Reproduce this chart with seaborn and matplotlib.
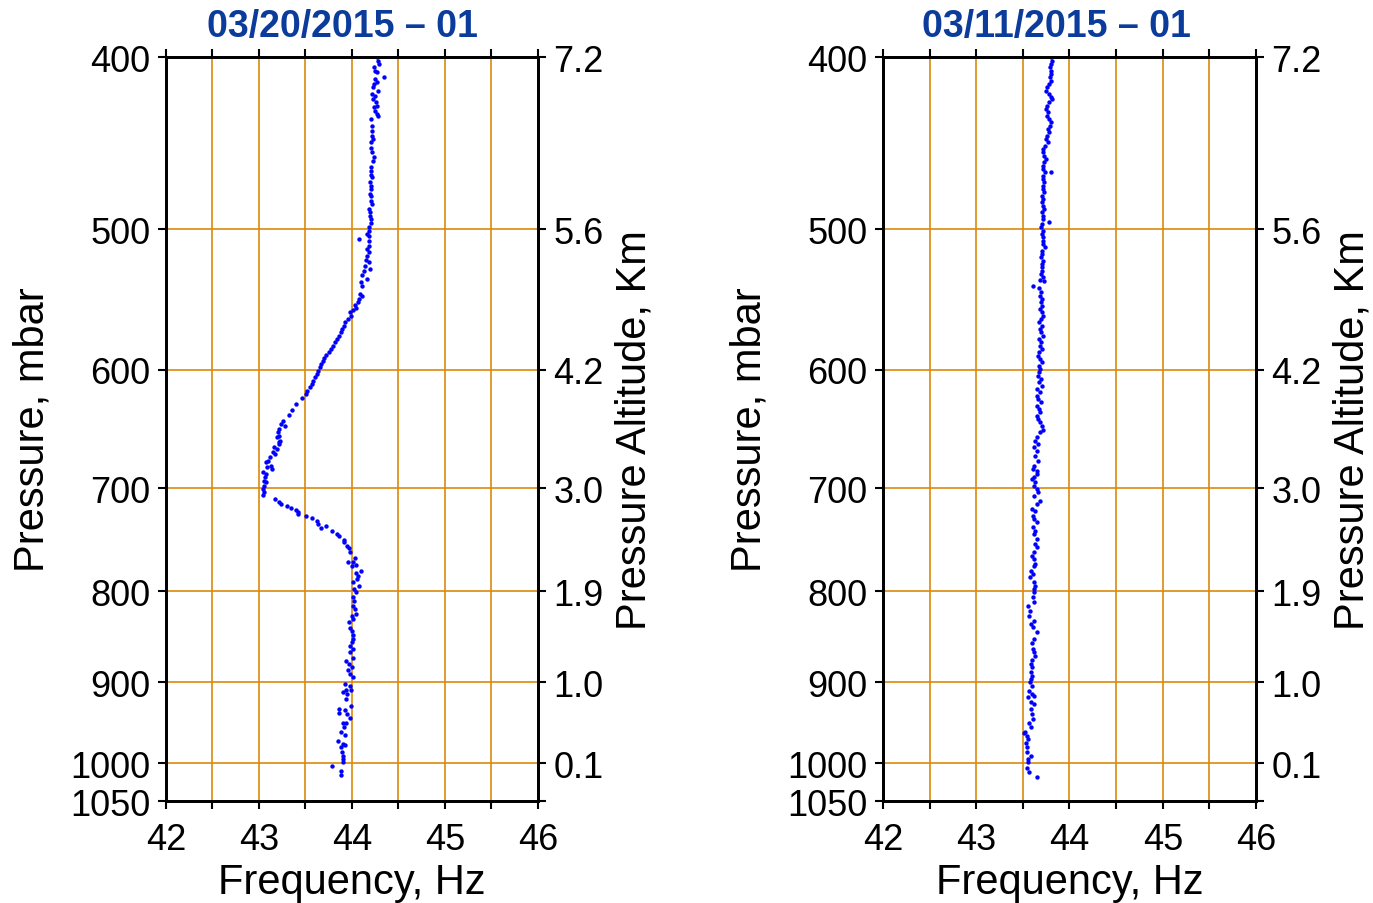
import matplotlib
matplotlib.use("Agg")
import matplotlib.pyplot as plt
from matplotlib.ticker import FixedLocator, NullLocator, NullFormatter, FixedFormatter
import pandas as pd
import seaborn as sns

sns.set_theme(style="white")
plt.rcParams["font.family"] = ["Liberation Sans", "DejaVu Sans"]

# Panel titles and axis ticks
titles = ["03/20/2015 \u2013 01", "03/11/2015 \u2013 01"]
pressure_ticks = [400, 500, 600, 700, 800, 900, 1000, 1050]
pressure_labels = ["400", "500", "600", "700", "800", "900", "1000", "1050"]
altitude_labels = ["7.2", "5.6", "4.2", "3.0", "1.9", "1.0", "0.1", ""]
freq_major = [42, 43, 44, 45, 46]
freq_minor = [42.5, 43.5, 44.5, 45.5]

# Sounding 03/20/2015 - 01 : frequency (Hz) vs pressure (mbar)
freq_0320 = [
    44.27, 44.28, 44.29, 44.24, 44.25, 44.27, 44.34, 44.25, 44.27, 44.24,
    44.23, 44.28, 44.22, 44.25, 44.23, 44.26, 44.27, 44.24, 44.25, 44.27,
    44.28, 44.21, 44.22, 44.22, 44.22, 44.23, 44.21, 44.20, 44.22, 44.24,
    44.23, 44.20, 44.21, 44.20, 44.22, 44.19, 44.21, 44.20, 44.19, 44.21,
    44.20, 44.22, 44.18, 44.19, 44.19, 44.21, 44.20, 44.18, 44.18, 44.16,
    44.18, 44.08, 44.18, 44.18, 44.16, 44.18, 44.16, 44.15, 44.18, 44.14,
    44.19, 44.13, 44.11, 44.16, 44.10, 44.11, 44.09, 44.11, 44.08, 44.06,
    44.03, 44.04, 44.01, 43.98, 43.99, 43.96, 43.92, 43.91, 43.89, 43.88,
    43.86, 43.84, 43.82, 43.80, 43.77, 43.75, 43.72, 43.70, 43.69, 43.67,
    43.66, 43.64, 43.62, 43.60, 43.58, 43.57, 43.55, 43.52, 43.51, 43.46,
    43.40, 43.35, 43.32,
    43.26, 43.24, 43.28, 43.21, 43.20, 43.22, 43.19, 43.23, 43.21, 43.22,
    43.16, 43.19, 43.15, 43.17, 43.12, 43.10, 43.08, 43.13, 43.09, 43.14,
    43.04, 43.08, 43.06, 43.05, 43.08, 43.05, 43.04, 43.05, 43.04,
    43.17, 43.22, 43.24, 43.30, 43.34, 43.40, 43.42, 43.42, 43.51, 43.57,
    43.62, 43.64, 43.72, 43.67, 43.78, 43.84, 43.86, 43.91, 43.91, 43.95,
    43.97, 43.98, 44.03, 43.96, 44.01, 44.04, 44.00, 44.10, 44.04, 44.06,
    44.05, 44.01, 44.08, 44.02, 44.04, 44.01, 44.02, 44.01, 44.03, 44.04,
    44.00, 44.01, 43.97, 43.98, 44.00, 44.01, 44.01, 44.00, 43.98, 44.01,
    43.98, 44.01, 43.94, 43.97, 44.00, 43.96, 43.98, 44.01, 43.92, 43.98,
    43.94, 43.99, 43.90, 43.95, 43.94, 43.99, 43.86, 43.92, 43.86, 43.95,
    43.98, 43.90, 43.94, 43.91, 43.88, 43.92, 43.85, 43.90, 43.92, 43.88,
    43.89, 43.90, 43.90, 43.90, 43.79, 43.88, 43.88,
]
pres_0320 = [
    400.2, 401.9, 403.7, 405.4, 407.2, 408.0, 410.7, 411.6, 413.4, 414.3,
    416.0, 417.9, 419.7, 420.6, 422.4, 424.2, 426.1, 427.0, 428.8, 430.7,
    431.6, 433.5, 437.3, 440.1, 443.0, 444.9, 446.8, 450.1, 452.6, 455.6,
    457.6, 461.5, 463.5, 466.1, 467.6, 470.6, 472.7, 474.7, 477.8, 478.8,
    481.9, 484.0, 487.2, 489.3, 491.4, 493.5, 496.1, 498.9, 501.1, 503.3,
    504.3, 506.5, 507.6, 510.9, 513.1, 515.4, 517.6, 520.3, 522.1, 524.3,
    526.6, 527.7, 530.7, 533.5, 535.8, 538.1, 544.0, 545.2, 547.5, 549.4,
    551.8, 554.2, 555.0, 557.1, 559.5, 561.9, 564.3, 566.8, 569.3, 571.7,
    574.2, 576.7, 579.2, 581.7, 584.2, 586.8, 588.8, 591.3, 593.1, 595.7,
    598.3, 600.8, 603.5, 606.1, 608.7, 611.4, 614.0, 616.7, 619.4, 622.8,
    627.4, 632.3, 636.4,
    641.1, 643.8, 645.2, 648.0, 650.8, 653.6, 655.1, 657.9, 659.4, 660.7,
    663.6, 665.0, 668.0, 669.4, 672.2, 675.2, 676.6, 679.6, 681.1, 682.6,
    685.5, 687.0, 690.0, 692.9, 694.4, 697.4, 700.4, 702.9, 705.9,
    709.6, 712.0, 714.2, 716.4, 718.2, 719.5, 722.0, 723.5, 725.1, 727.6,
    729.8, 733.0, 735.2, 737.1, 739.3, 742.5, 744.8, 748.0, 750.6, 753.8,
    756.5, 759.7, 766.3, 769.7, 770.3, 773.0, 773.7, 778.7, 781.1, 783.7,
    787.1, 790.6, 794.0, 797.4, 800.8, 806.1, 809.6, 814.8, 818.4, 823.8,
    825.5, 829.1, 832.7, 839.2, 841.7, 846.5, 850.9, 854.6, 858.3, 862.0,
    865.8, 872.5, 875.1, 879.0, 882.8, 885.4, 890.4, 894.3, 902.0, 904.0,
    908.7, 909.5, 911.8, 913.8, 919.8, 927.7, 931.8, 932.5, 937.1, 937.8,
    943.2, 948.9, 949.5, 954.2, 960.4, 963.8, 970.8, 975.0, 976.3, 979.2,
    985.6, 990.0, 994.2, 998.5, 1003.7, 1009.4, 1015.0,
]

# Sounding 03/11/2015 - 01 : frequency (Hz) vs pressure (mbar)
freq_0311 = [
    43.80, 43.81, 43.80, 43.79, 43.80, 43.80, 43.79, 43.80, 43.78, 43.76,
    43.75, 43.78, 43.80, 43.81, 43.78, 43.76, 43.75, 43.77, 43.76, 43.78,
    43.80, 43.79, 43.77, 43.78, 43.76, 43.75, 43.77, 43.74, 43.72, 43.72,
    43.73, 43.75, 43.73, 43.72, 43.72, 43.80, 43.74, 43.72, 43.72, 43.73,
    43.72, 43.72, 43.73, 43.71, 43.72, 43.71, 43.72, 43.73, 43.71, 43.72,
    43.72, 43.78, 43.71, 43.69, 43.72, 43.71, 43.72, 43.72, 43.72, 43.74,
    43.70, 43.71, 43.69, 43.72, 43.70, 43.71, 43.70, 43.69, 43.72, 43.68,
    43.73, 43.61, 43.67, 43.69, 43.68, 43.70, 43.69, 43.71, 43.68, 43.70,
    43.72, 43.69, 43.67, 43.71, 43.68, 43.69, 43.72, 43.67, 43.69, 43.68,
    43.70, 43.67, 43.66, 43.68, 43.70, 43.67, 43.68, 43.67, 43.66, 43.69,
    43.67, 43.71, 43.65, 43.68, 43.65, 43.66, 43.69, 43.65, 43.67, 43.68,
    43.65, 43.66, 43.68, 43.70,
    43.72, 43.68, 43.65, 43.63, 43.66, 43.62, 43.65, 43.63, 43.66, 43.62,
    43.61, 43.65, 43.65, 43.62, 43.60, 43.63, 43.62, 43.65, 43.66, 43.62,
    43.68, 43.65, 43.60, 43.63, 43.61, 43.62, 43.65, 43.61, 43.63, 43.62,
    43.65, 43.63, 43.65, 43.62, 43.60, 43.62, 43.63, 43.62, 43.59, 43.61,
    43.58, 43.62, 43.63, 43.62, 43.62, 43.61, 43.62, 43.56, 43.58, 43.57,
    43.62, 43.59, 43.61, 43.65, 43.62, 43.60, 43.61, 43.62, 43.63, 43.60,
    43.59, 43.60, 43.59, 43.60, 43.59, 43.58, 43.60, 43.57, 43.60, 43.62,
    43.56, 43.59, 43.62, 43.59, 43.60, 43.61, 43.57, 43.59, 43.52, 43.51,
    43.54, 43.56, 43.53, 43.54, 43.54, 43.59, 43.55, 43.56, 43.54, 43.57,
    43.65,
]
pres_0311 = [
    400.2, 401.9, 403.7, 405.4, 407.2, 408.9, 410.7, 412.5, 414.3, 416.0,
    417.9, 419.7, 421.5, 422.4, 424.2, 426.1, 427.9, 429.8, 431.6, 433.5,
    435.4, 437.3, 439.2, 441.1, 443.0, 444.9, 446.8, 448.8, 450.7, 452.6,
    454.6, 456.6, 458.6, 460.5, 462.6, 464.1, 464.5, 466.5, 468.6, 470.6,
    472.7, 474.7, 476.7, 478.8, 480.9, 483.0, 485.1, 487.2, 489.3, 491.4,
    493.5, 495.3, 496.8, 498.9, 501.1, 503.3, 505.4, 507.6, 509.8, 512.0,
    514.2, 516.4, 518.7, 521.0, 523.2, 525.5, 527.7, 530.1, 532.4, 534.0,
    534.7, 538.6, 540.0, 542.8, 545.2, 547.5, 549.9, 552.3, 554.7, 557.1,
    559.5, 561.9, 564.3, 566.8, 569.3, 571.7, 574.2, 576.7, 579.2, 581.7,
    584.2, 586.8, 589.3, 591.8, 594.4, 597.0, 599.6, 602.2, 604.8, 607.4,
    610.1, 612.7, 615.4, 618.0, 620.7, 623.4, 626.1, 628.8, 631.5, 634.3,
    637.0, 639.8, 642.5, 645.4,
    648.6, 650.8, 655.1, 657.9, 660.7, 663.6, 666.5, 670.8, 675.2, 679.6,
    682.6, 684.0, 687.0, 690.0, 691.5, 694.4, 697.4, 700.4, 703.4, 706.6,
    711.2, 714.2, 718.8, 720.4, 725.1, 728.1, 731.4, 736.1, 739.3, 742.5,
    747.4, 752.3, 755.5, 760.4, 763.7, 767.0, 772.0, 773.7, 778.7, 782.0,
    785.5, 790.6, 794.0, 797.4, 800.8, 806.1, 811.4, 814.8, 820.2, 825.5,
    830.9, 834.5, 838.1, 843.6, 850.9, 855.3, 862.0, 865.8, 870.2, 874.1,
    879.0, 882.8, 888.5, 892.3, 896.2, 900.2, 904.0, 909.9, 913.8, 916.6,
    917.8, 923.8, 925.8, 931.8, 937.8, 944.0, 948.9, 954.2, 959.7, 961.5,
    964.6, 968.8, 973.8, 979.2, 985.6, 990.0, 994.2, 998.5, 1006.3, 1011.6,
    1018.2,
]

GRID_COLOR = "#d98a0b"
TITLE_COLOR = "#0b3c9c"
TICK_SIZE = 26
LABEL_SIZE = 30

fig = plt.figure(figsize=(13.73, 9.04), dpi=100)
fig.patch.set_facecolor("white")
positions = [[0.1209, 0.1128, 0.2709, 0.823], [0.6431, 0.1128, 0.2717, 0.823]]
title_x = [0.475, 0.465]
panels = [(freq_0320, pres_0320), (freq_0311, pres_0311)]

for pos, tx, title, (fr, pr) in zip(positions, title_x, titles, panels):
    ax = fig.add_axes(pos)
    ax.set_facecolor("white")
    df = pd.DataFrame({"Frequency": fr, "Pressure": pr})
    ax.set_yscale("log")
    sns.scatterplot(data=df, x="Frequency", y="Pressure", ax=ax, color="#0000ff",
                    s=10, linewidth=0, zorder=3, legend=False)
    ax.set_xlim(42, 46)
    ax.set_ylim(1050, 400)

    ax.xaxis.set_major_locator(FixedLocator(freq_major))
    ax.xaxis.set_minor_locator(FixedLocator(freq_minor))
    ax.xaxis.set_minor_formatter(NullFormatter())
    ax.yaxis.set_major_locator(FixedLocator(pressure_ticks))
    ax.yaxis.set_major_formatter(FixedFormatter(pressure_labels))
    ax.yaxis.set_minor_locator(NullLocator())

    ax.set_axisbelow(True)
    ax.grid(True, axis="x", which="both", color=GRID_COLOR, lw=1.2)
    ax.grid(True, axis="y", which="major", color=GRID_COLOR, lw=1.2)

    ax.tick_params(axis="both", which="both", direction="out", length=6, width=1.5,
                   color="black", labelsize=TICK_SIZE, labelcolor="black")
    ax.tick_params(axis="x", which="both", top=True, bottom=True, pad=9)
    ax.tick_params(axis="y", which="both", left=True, right=False, pad=5)
    for sp in ax.spines.values():
        sp.set_color("black")
        sp.set_linewidth(2)

    ax.set_xlabel("Frequency, Hz", fontsize=LABEL_SIZE, color="black", labelpad=4)
    ax.set_ylabel("Pressure, mbar", fontsize=LABEL_SIZE, color="black", labelpad=13)
    ax.set_title(title, x=tx, fontsize=27, fontweight="bold", color=TITLE_COLOR, pad=15)

    ax2 = ax.twinx()
    ax2.set_yscale("log")
    ax2.set_ylim(1050, 400)
    ax2.yaxis.set_major_locator(FixedLocator(pressure_ticks))
    ax2.yaxis.set_major_formatter(FixedFormatter(altitude_labels))
    ax2.yaxis.set_minor_locator(NullLocator())
    ax2.grid(False)
    ax2.tick_params(axis="y", which="both", direction="out", length=6, width=1.5,
                    color="black", labelsize=TICK_SIZE, labelcolor="black", pad=5,
                    right=True)
    for sp in ax2.spines.values():
        sp.set_color("black")
        sp.set_linewidth(2)
    ax2.set_ylabel("Pressure Altitude, Km", fontsize=LABEL_SIZE, color="black",
                   labelpad=8)

fig.savefig("out.png", dpi=100, facecolor="white")
